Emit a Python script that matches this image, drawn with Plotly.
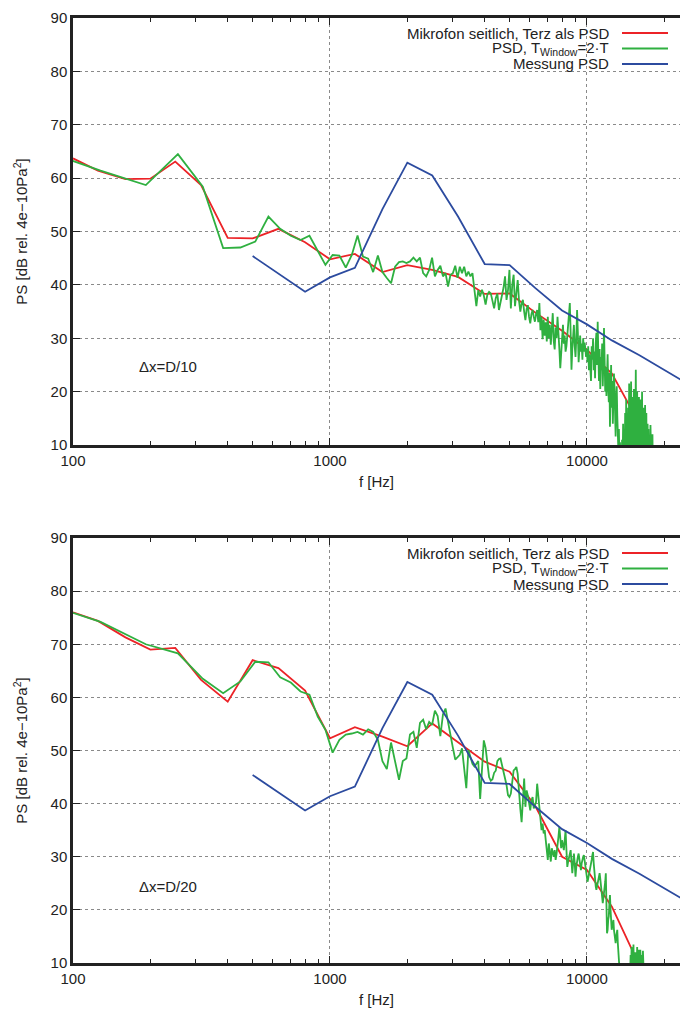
import plotly.graph_objects as go

# ---------------- data ----------------
terz_f = [100, 125, 160, 200, 250, 315, 400, 500, 630, 800, 1000, 1250, 1600,
          2000, 2500, 3150, 4000, 5000, 6300, 8000, 10000, 12500, 16000, 20000]
terz_top = [63.7, 61.4, 59.8, 59.9, 63.1, 58.7, 48.8, 48.7, 50.5, 48.0, 44.8, 45.8, 42.4,
            43.7, 42.8, 41.5, 38.3, 38.4, 34.8, 31.4, 27.8, 23.4, 14.0, 4.0]
terz_bottom = [76.0, 74.4, 71.3, 69.0, 69.3, 63.3, 59.2, 67.0, 65.5, 61.3, 52.3, 54.4, 52.6,
               50.8, 55.1, 51.6, 47.9, 46.0, 39.5, 30.0, 27.5, 20.6, 9.5, 2.0]

mess_f = [500, 630, 800, 1000, 1250, 1600, 2000, 2500, 3150, 4000, 5000, 6300,
          8000, 10000, 12500, 16000, 20000, 25000]
mess_db = [45.4, 42.1, 38.7, 41.4, 43.2, 54.2, 62.9, 60.5, 52.8, 43.9, 43.7, 39.4,
           35.2, 32.6, 29.6, 26.8, 24.0, 21.3]

psd_df = 64  # Hz, bin spacing of the narrow-band PSD
psd_top = [
    66.5, 61.4, 58.7, 64.5, 58.4, 46.9, 47.0, 48.1, 52.8, 50.5,
    49.2, 48.4, 49.2, 46.4, 43.75, 45.6, 45.5, 43.25, 45.6, 49.25,
    45.3, 44.9, 42.4, 45.5, 42.4, 41.3, 40.3, 43.4, 44.25, 44.4,
    44.1, 44.4, 45.1, 44.4, 45.1, 42.2, 41.6, 42.8, 45.1, 41.6,
    42.8, 43.6, 41.6, 42.2, 39.7, 41.9, 42.2, 43.6, 41.3, 43.4,
    42.2, 43.4, 41.6, 42.5, 41.6, 42.2, 39.5, 36.0, 39.0, 37.8,
    39.1, 38.0, 36.3, 38.2, 38.7, 38.4, 37.0, 35.6, 37.5, 38.4,
    35.3, 37.0, 38.1, 39.5, 41.6, 37.2, 39.0, 42.8, 35.6, 40.0,
    41.9, 36.0, 38.5, 40.9, 37.0, 35.0, 36.5, 37.2, 35.0, 33.4,
    35.5, 36.2, 34.0, 32.8, 34.5, 35.3, 34.0, 33.1, 34.5, 35.3,
    33.0, 36.6, 31.5, 34.0, 29.8, 33.5, 30.5, 33.0, 29.4, 34.0,
    30.0, 32.5, 28.8, 31.0, 34.7, 29.5, 27.9, 32.0, 30.0, 34.0,
    31.5, 28.0, 24.4, 27.5, 30.0, 32.5, 29.0, 30.5, 27.5, 28.5,
    30.5, 33.0, 35.0, 36.6, 31.0, 24.1, 28.0, 31.5, 32.5, 28.5,
    26.5, 30.0, 35.3, 31.0, 25.5, 28.0, 30.5, 27.5, 29.0, 26.0,
    30.0, 27.5, 29.2, 28.0, 26.5, 28.0, 25.5, 28.5, 24.0, 27.0,
    25.0, 22.0, 28.5, 26.0, 30.0, 24.0, 27.5, 22.5, 29.0, 31.0,
    25.0, 33.1, 27.0, 22.0, 28.0, 20.5, 26.5, 24.0, 29.0, 21.0,
    25.5, 31.9, 26.0, 20.0, 24.5, 19.2, 23.0, 27.0, 21.0, 18.0,
    23.5, 13.4, 20.0, 25.0, 17.0, 22.0, 14.0, 19.5, 23.4, 20.5,
    16.0, 11.6, 18.5, 21.0, 15.5, 12.0, 9.0, 13.0, 7.0, 10.5,
    5.0, 8.0, 3.0, 11.0, 6.0, 14.0, 4.0, 12.5, 7.0, 16.0,
    5.0, 18.5, 9.0, 14.0, 3.0, 17.0, 8.0, 21.5, 11.0, 17.5,
    6.0, 21.9, 13.0, 19.0, 4.0, 15.0, 10.0, 20.5, 7.0, 18.0,
    12.0, 24.1, 9.0, 16.0, 20.0, 5.0, 15.5, 11.0, 19.0, 8.0,
    14.5, 18.5, 6.0, 16.0, 12.0, 20.0, 4.0, 13.0, 17.0, 9.0,
    15.0, 5.0, 17.5, 11.0, 8.0, 16.0, 3.0, 12.0, 14.0, 6.0,
    13.0, 9.0, 4.0, 11.5, 7.0, 13.75, 5.0, 10.5, 3.0, 8.0,
    12.0, 4.0, 9.5, 2.0, 6.0,
]
psd_bottom = [
    79.0, 74.2, 70.0, 68.3, 63.5, 60.8, 63.0, 66.7, 66.6, 63.8,
    62.8, 61.1, 60.5, 56.4, 53.9, 49.6, 52.0, 53.0, 53.2, 53.5,
    53.0, 54.0, 53.5, 52.0, 48.0, 46.5, 51.5, 48.0, 44.5, 48.0,
    48.5, 53.0, 53.5, 50.5, 55.2, 55.8, 54.0, 55.4, 54.8, 57.5,
    56.5, 52.7, 56.8, 57.9, 55.1, 52.9, 50.5, 48.3, 48.8, 49.2,
    50.4, 46.5, 42.9, 50.1, 48.5, 47.5, 47.0, 47.5, 48.0, 40.9,
    46.25, 51.9, 50.5, 47.0, 45.0, 44.3, 44.6, 45.8, 46.2, 48.0,
    48.4, 48.5, 47.2, 46.5, 44.8, 43.5, 41.6, 41.25, 41.9, 44.4,
    46.25, 46.5, 46.9, 45.6, 41.25, 39.0, 36.5, 41.25, 44.7, 39.4,
    42.5, 41.5, 40.3, 38.75, 40.6, 41.25, 39.1, 40.0, 40.3, 43.75,
    41.25, 39.4, 36.9, 35.0, 36.25, 34.4, 35.0, 33.4, 31.25, 29.4,
    32.5, 30.6, 29.1, 31.6, 30.6, 30.0, 31.25, 29.4, 30.6, 31.9,
    33.75, 35.6, 33.1, 31.6, 33.1, 32.2, 31.25, 33.1, 35.0, 31.25,
    28.1, 29.1, 30.0, 30.6, 31.25, 29.1, 26.9, 28.75, 30.6, 28.75,
    26.25, 28.1, 29.4, 30.0, 30.6, 29.4, 28.1, 27.5, 28.75, 29.7,
    30.0, 30.3, 29.4, 28.4, 27.5, 26.25, 25.3, 25.9, 26.6, 26.9,
    27.5, 28.0, 29.4, 30.3, 30.9, 28.75, 26.6, 25.3, 24.4, 23.75,
    24.4, 24.9, 25.6, 26.4, 26.9, 25.9, 24.9, 23.75, 22.2, 21.25,
    22.2, 23.0, 23.9, 25.3, 26.9, 21.25, 15.6, 16.25, 18.1, 18.75,
    21.25, 22.8, 20.0, 17.5, 16.25, 16.9, 17.8, 18.1, 16.25, 15.0,
    13.75, 13.75, 15.0, 15.9, 16.25, 13.75, 11.9, 10.6, 10.0, 8.75,
    6.0, 8.0, 5.0, 7.5, 4.0, 6.5, 3.0, 5.5, 7.0, 4.0,
    6.0, 3.5, 8.0, 5.0, 7.0, 4.5, 8.5, 6.0, 9.0, 7.5,
    11.5, 7.0, 13.0, 9.0, 12.0, 6.0, 13.5, 8.0, 12.0, 10.0,
    11.5, 7.5, 12.0, 9.0, 13.0, 6.5, 11.0, 8.5, 12.5, 7.0,
    10.5, 12.5, 8.0, 11.0, 6.0, 11.5, 9.0, 12.3, 7.0, 10.0,
    5.0, 7.0, 3.0, 6.0, 4.0, 2.0, 5.0, 3.0, 6.0, 2.0,
    4.0, 1.0, 3.0, 5.0, 2.0, 4.0, 1.0, 3.0, 2.0, 1.0,
]

major_ticks = [100, 1000, 10000]
minor_ticks = [200, 300, 400, 500, 600, 700, 800, 900,
               2000, 3000, 4000, 5000, 6000, 7000, 8000, 9000, 20000]
legend_labels = ["Mikrofon seitlich, Terz als PSD", "PSD, T<sub>Window</sub>=2·T", "Messung PSD"]
panel_labels = ["Δx=D/10", "Δx=D/20"]

# ---------------- style ----------------
RED, GREEN, BLUE = "#ec2327", "#2fb040", "#2c4b9f"
FONT = "Liberation Sans, Arial, sans-serif"
TXT = "#222222"
W, H = 680, 1012
L, R, T, B = 73, 0, 18, 49


def px_x(p):
    return (p - L) / (W - L - R)


def px_y(p):
    return (H - B - p) / (H - T - B)


def psd_freqs(n):
    return [psd_df * (k + 1) for k in range(n)]


fig = go.Figure()
panels = [
    ("x", "y", terz_top, psd_top),
    ("x2", "y2", terz_bottom, psd_bottom),
]
for xa, ya, terz, psd in panels:
    fig.add_trace(go.Scatter(x=terz_f, y=terz, mode="lines",
                             line=dict(color=RED, width=1.8), xaxis=xa, yaxis=ya,
                             showlegend=False))
    fig.add_trace(go.Scatter(x=psd_freqs(len(psd)), y=psd, mode="lines",
                             line=dict(color=GREEN, width=1.8), xaxis=xa, yaxis=ya,
                             showlegend=False))
    fig.add_trace(go.Scatter(x=mess_f, y=mess_db, mode="lines",
                             line=dict(color=BLUE, width=1.8), xaxis=xa, yaxis=ya,
                             showlegend=False))

xcommon = dict(type="log", range=[2, 4.362], showline=True, linewidth=2.5, linecolor=TXT,
               mirror="allticks", ticks="inside", ticklen=7, tickwidth=1.2, tickcolor=TXT,
               tickvals=major_ticks, ticktext=[str(v) for v in major_ticks],
               showgrid=True, gridcolor="#8a8a8a", griddash="dot", gridwidth=1,
               minor=dict(tickvals=minor_ticks, ticks="inside", ticklen=4, tickcolor=TXT,
                          showgrid=False),
               tickfont=dict(size=15, color=TXT, family=FONT),
               title=dict(text="f [Hz]", font=dict(size=15, color=TXT, family=FONT), standoff=9),
               zeroline=False)
ycommon = dict(range=[10, 90], tick0=10, dtick=10, showline=True, linewidth=2.5, linecolor=TXT,
               mirror=False, ticks="inside", ticklen=7, tickwidth=1.2, tickcolor=TXT,
               showgrid=True, gridcolor="#8a8a8a", griddash="dot", gridwidth=1,
               tickfont=dict(size=15, color=TXT, family=FONT),
               title=dict(text="PS [dB rel. 4e−10Pa<sup>2</sup>]",
                          font=dict(size=15, color=TXT, family=FONT), standoff=20),
               zeroline=False)

top_dom = [px_y(445), 1.0]
bot_dom = [0.0, px_y(538)]

fig.update_layout(
    width=W, height=H,
    margin=dict(l=L, r=R, t=T, b=B),
    paper_bgcolor="white", plot_bgcolor="white",
    font=dict(family=FONT, color=TXT, size=15),
    xaxis=dict(xcommon, domain=[0, 1], anchor="y"),
    yaxis=dict(ycommon, domain=top_dom, anchor="x"),
    xaxis2=dict(xcommon, domain=[0, 1], anchor="y2"),
    yaxis2=dict(ycommon, domain=bot_dom, anchor="x2"),
)

shapes = []
annotations = []
colors = [RED, GREEN, BLUE]
for top_px, label in [(18, panel_labels[0]), (538, panel_labels[1])]:
    # opaque key box
    shapes.append(dict(type="rect", xref="paper", yref="paper",
                       x0=px_x(320), x1=px_x(671), y0=px_y(top_px + 56), y1=px_y(top_px + 2),
                       fillcolor="white", line=dict(width=0), layer="between"))
    for i, (txt, col) in enumerate(zip(legend_labels, colors)):
        row_y = top_px + 15 + 15.5 * i
        shapes.append(dict(type="line", xref="paper", yref="paper",
                           x0=px_x(622), x1=px_x(668), y0=px_y(row_y), y1=px_y(row_y),
                           line=dict(color=col, width=1.8)))
        annotations.append(dict(text=txt, xref="paper", yref="paper", x=px_x(610), y=px_y(row_y),
                                xanchor="right", yanchor="middle", showarrow=False,
                                borderpad=0,
                                font=dict(size=15, color=TXT, family=FONT)))
    annotations.append(dict(text=label, xref="paper", yref="paper", x=px_x(137),
                            y=px_y(top_px + 348), xanchor="left", yanchor="middle",
                            showarrow=False, font=dict(size=15, color=TXT, family=FONT)))

fig.update_layout(shapes=shapes, annotations=annotations)
fig.write_html("out.html")
